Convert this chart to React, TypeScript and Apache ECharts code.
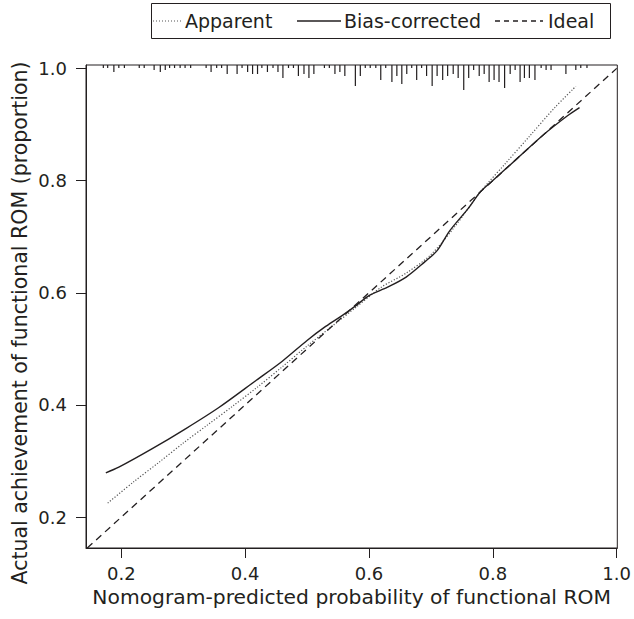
import React, { useEffect, useRef } from "react";
import * as echarts from "echarts";

// ---- data ----
const xTicks = [0.2, 0.4, 0.6, 0.8, 1.0];
const yTicks = [0.2, 0.4, 0.6, 0.8, 1.0];

const apparentX = [0.178, 0.22, 0.26, 0.3, 0.34, 0.38, 0.42, 0.46, 0.5, 0.54, 0.58, 0.62, 0.66, 0.7, 0.74, 0.78, 0.82, 0.86, 0.9, 0.934];
const apparentY = [0.225, 0.263, 0.297, 0.332, 0.365, 0.398, 0.432, 0.468, 0.505, 0.54, 0.575, 0.61, 0.635, 0.668, 0.72, 0.78, 0.83, 0.88, 0.93, 0.968];

const biasX = [0.175, 0.196, 0.25, 0.303, 0.357, 0.418, 0.46, 0.5, 0.53, 0.56, 0.58, 0.6, 0.63, 0.66, 0.69, 0.71, 0.73, 0.76, 0.78, 0.8, 0.84, 0.88, 0.92, 0.94];
const biasY = [0.279, 0.289, 0.322, 0.357, 0.395, 0.444, 0.478, 0.515, 0.54, 0.562, 0.578, 0.595, 0.61, 0.628, 0.655, 0.675, 0.71, 0.75, 0.78, 0.8, 0.84, 0.88, 0.915, 0.93];

const idealX = [0.145, 1.0];
const idealY = [0.145, 1.0];

const rugX = [0.171, 0.178, 0.188, 0.196, 0.205, 0.229, 0.237, 0.253, 0.263, 0.271, 0.278, 0.286, 0.295, 0.303, 0.312, 0.337, 0.345, 0.354, 0.362, 0.371, 0.387, 0.395, 0.404, 0.412, 0.42, 0.427, 0.436, 0.445, 0.453, 0.461, 0.47, 0.478, 0.486, 0.495, 0.503, 0.511, 0.528, 0.536, 0.545, 0.553, 0.561, 0.578, 0.586, 0.594, 0.602, 0.611, 0.619, 0.627, 0.637, 0.645, 0.653, 0.661, 0.669, 0.677, 0.685, 0.693, 0.702, 0.71, 0.719, 0.727, 0.736, 0.744, 0.753, 0.761, 0.769, 0.778, 0.786, 0.794, 0.802, 0.81, 0.819, 0.828, 0.836, 0.844, 0.851, 0.859, 0.868, 0.878, 0.886, 0.894, 0.918, 0.934, 0.942, 0.952];
const rugN = [1, 1, 3, 1, 1, 1, 1, 2, 3, 2, 1, 1, 1, 1, 1, 1, 3, 1, 1, 4, 4, 1, 3, 4, 4, 1, 3, 1, 3, 6, 1, 1, 5, 4, 6, 4, 1, 1, 4, 3, 5, 10, 5, 1, 1, 1, 7, 1, 8, 5, 9, 4, 1, 7, 1, 5, 10, 5, 7, 5, 4, 6, 12, 6, 2, 5, 4, 8, 7, 8, 11, 4, 2, 8, 6, 6, 7, 1, 2, 2, 4, 2, 1, 1];

const legendNames = ["Apparent", "Bias-corrected", "Ideal"];
const xTitle = "Nomogram-predicted probability of functional ROM";
const yTitle = "Actual achievement of functional ROM (proportion)";

const X_MIN = 0.143;
const X_MAX = 1.001;
const Y_MIN = 0.145;
const Y_MAX = 1.006;

const INK = "#231f20";
const FONT = "DejaVu Sans";

export default function App() {
  const ref = useRef<HTMLDivElement>(null);
  useEffect(() => {
    if (!ref.current) return;
    const chart = echarts.init(ref.current, null, { renderer: "svg" });
    const zip = (a: number[], b: number[]) => a.map((v, i) => [v, b[i]]);
    const legendY = 21;
    const legendText = (x: number, t: string) => ({
      type: "text",
      x,
      y: legendY,
      style: { text: t, fontSize: 19, fontFamily: FONT, fill: INK, textVerticalAlign: "middle", textAlign: "left" },
    });
    const legendLine = (x1: number, x2: number, dash: any, stroke: string, w: number) => ({
      type: "line",
      shape: { x1, y1: legendY, x2, y2: legendY },
      style: { stroke, lineWidth: w, lineDash: dash },
    });
    chart.setOption({
      animation: false,
      backgroundColor: "#ffffff",
      textStyle: { fontFamily: FONT, color: INK },
      graphic: [
        {
          type: "rect",
          shape: { x: 151.5, y: 3.5, width: 459, height: 35 },
          style: { fill: "none", stroke: INK, lineWidth: 1 },
        },
        legendLine(153, 182, [1, 2], "#555", 1.2),
        legendText(185, legendNames[0]),
        legendLine(297, 341, null, INK, 1.4),
        legendText(344, legendNames[1]),
        legendLine(495, 543, [5, 4], INK, 1.3),
        legendText(548, legendNames[2]),
        {
          type: "text",
          x: 20,
          y: 323,
          rotation: Math.PI / 2,
          style: { text: yTitle, fontSize: 20.5, fontFamily: FONT, fill: INK, textAlign: "center", textVerticalAlign: "middle" },
        },
      ],
      grid: {
        left: 86,
        right: 13,
        top: 65,
        bottom: 71,
        show: true,
        borderColor: INK,
        borderWidth: 1,
        backgroundColor: "transparent",
      },
      xAxis: {
        type: "value",
        min: X_MIN,
        max: X_MAX,
        axisLine: { show: true, lineStyle: { color: INK, width: 1 } },
        axisTick: { show: true, length: 10, customValues: xTicks, lineStyle: { color: INK } },
        axisLabel: {
          customValues: xTicks,
          formatter: (v: number) => v.toFixed(1),
          fontSize: 18,
          color: INK,
          fontFamily: FONT,
          margin: 16,
        },
        splitLine: { show: false },
        name: xTitle,
        nameLocation: "middle",
        nameGap: 39,
        nameTextStyle: { fontSize: 20.3, color: INK, fontFamily: FONT },
      },
      yAxis: {
        type: "value",
        min: Y_MIN,
        max: Y_MAX,
        axisLine: { show: true, lineStyle: { color: INK, width: 1 } },
        axisTick: { show: true, length: 10, customValues: yTicks, lineStyle: { color: INK } },
        axisLabel: {
          customValues: yTicks,
          formatter: (v: number) => v.toFixed(1),
          fontSize: 18,
          color: INK,
          fontFamily: FONT,
          margin: 19,
        },
        splitLine: { show: false },
      },
      series: [
        {
          name: legendNames[0],
          type: "line",
          data: zip(apparentX, apparentY),
          showSymbol: false,
          smooth: 0.3,
          lineStyle: { color: "#555", width: 1.2, type: [1.2, 1.8] },
          itemStyle: { color: "#555" },
        },
        {
          name: legendNames[1],
          type: "line",
          data: zip(biasX, biasY),
          showSymbol: false,
          smooth: 0.3,
          lineStyle: { color: INK, width: 1.4, type: "solid" },
          itemStyle: { color: INK },
        },
        {
          name: legendNames[2],
          type: "line",
          data: zip(idealX, idealY),
          showSymbol: false,
          lineStyle: { color: INK, width: 1.3, type: [7, 5] },
          itemStyle: { color: INK },
        },
        {
          name: "rug",
          type: "custom",
          data: zip(rugX, rugN),
          clip: false,
          silent: true,
          renderItem: (params: any, api: any) => {
            const x = api.value(0);
            const n = api.value(1);
            const top = api.coord([x, Y_MAX]);
            return {
              type: "line",
              shape: { x1: top[0], y1: top[1], x2: top[0], y2: top[1] + 1 + n * 2.0 },
              style: { stroke: INK, lineWidth: 1.2 },
            };
          },
        },
      ],
    });
    return () => chart.dispose();
  }, []);
  return (
    <div
      ref={ref}
      style={{ position: "fixed", left: 0, top: 0, width: 634, height: 619, background: "#fff" }}
    />
  );
}
